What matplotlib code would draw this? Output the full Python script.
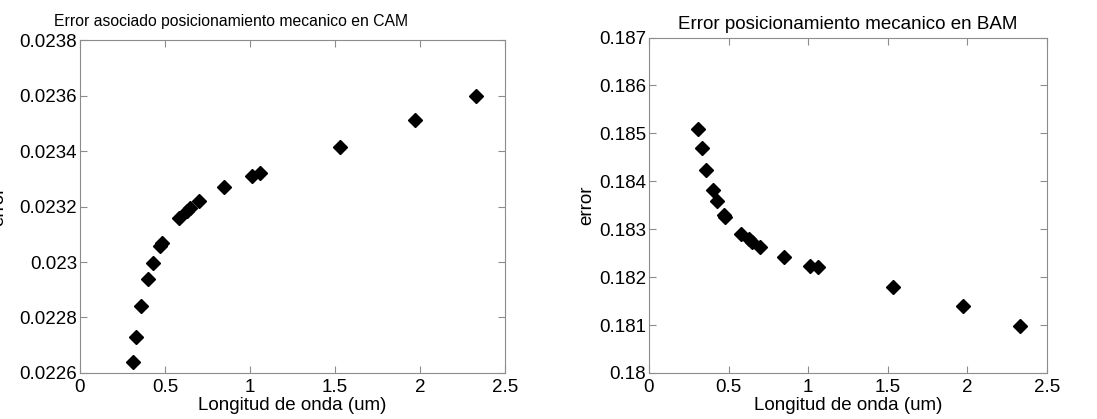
import matplotlib.pyplot as plt

plt.rcParams['font.family'] = ['Liberation Sans', 'DejaVu Sans']

# wavelengths (um)
longitud = [0.31, 0.33, 0.36, 0.40, 0.43, 0.47, 0.48, 0.58, 0.63, 0.65,
            0.70, 0.85, 1.01, 1.06, 1.53, 1.97, 2.33]

error_cam = [0.022639, 0.02273, 0.022843, 0.022938, 0.022995, 0.023058, 0.023068,
             0.023157, 0.023185, 0.023195, 0.02322, 0.023269, 0.02331, 0.02332,
             0.023414, 0.02351, 0.02360]

error_bam = [0.18509, 0.18469, 0.18424, 0.18381, 0.18358, 0.18330, 0.18326,
             0.18290, 0.18279, 0.18273, 0.18263, 0.18242, 0.18224, 0.18221,
             0.18180, 0.18139, 0.18099]

cam_ticks = [0.0226, 0.0228, 0.023, 0.0232, 0.0234, 0.0236, 0.0238]
cam_labels = ['0.0226', '0.0228', '0.023', '0.0232', '0.0234', '0.0236', '0.0238']
bam_ticks = [0.18, 0.181, 0.182, 0.183, 0.184, 0.185, 0.186, 0.187]
bam_labels = ['0.18', '0.181', '0.182', '0.183', '0.184', '0.185', '0.186', '0.187']
x_ticks = [0, 0.5, 1, 1.5, 2, 2.5]
x_labels = ['0', '0.5', '1', '1.5', '2', '2.5']

FS = 13.5


def style_axes(ax, yticks, ylabels, ylim):
    ax.set_xlim(0, 2.5)
    ax.set_ylim(*ylim)
    ax.set_xticks(x_ticks)
    ax.set_xticklabels(x_labels)
    ax.set_yticks(yticks)
    ax.set_yticklabels(ylabels)
    for s in ax.spines.values():
        s.set_color('#8c8c8c')
        s.set_linewidth(0.8)
    ax.tick_params(direction='in', top=True, right=True, length=5,
                   color='#8c8c8c', labelsize=FS, labelcolor='black')
    ax.tick_params(axis='x', pad=4)
    ax.tick_params(axis='y', pad=2)
    ax.set_xlabel('Longitud de onda (um)', fontsize=FS, labelpad=1)


fig = plt.figure(figsize=(10.97, 4.19), dpi=100)

ax1 = fig.add_axes([0.0729, 0.1098, 0.3874, 0.7947])
ax1.plot(longitud, error_cam, 'kD', markersize=7.5)
style_axes(ax1, cam_ticks, cam_labels, (0.0226, 0.0238))
# title in the reference is squeezed horizontally, so a smaller size keeps its width
ax1.set_title('Error asociado posicionamiento mecanico en CAM', fontsize=11.3,
              x=0.355, pad=10)
ax1.set_ylabel('error', fontsize=FS)
ax1.yaxis.set_label_coords(-0.17, 0.5)

ax2 = fig.add_axes([0.5916, 0.1098, 0.3628, 0.8007])
ax2.plot(longitud, error_bam, 'kD', markersize=7.5)
style_axes(ax2, bam_ticks, bam_labels, (0.18, 0.187))
ax2.set_title('Error posicionamiento mecanico en BAM', fontsize=FS, pad=6)
ax2.set_ylabel('error', fontsize=FS, labelpad=3)

fig.savefig('out.png', dpi=100)
